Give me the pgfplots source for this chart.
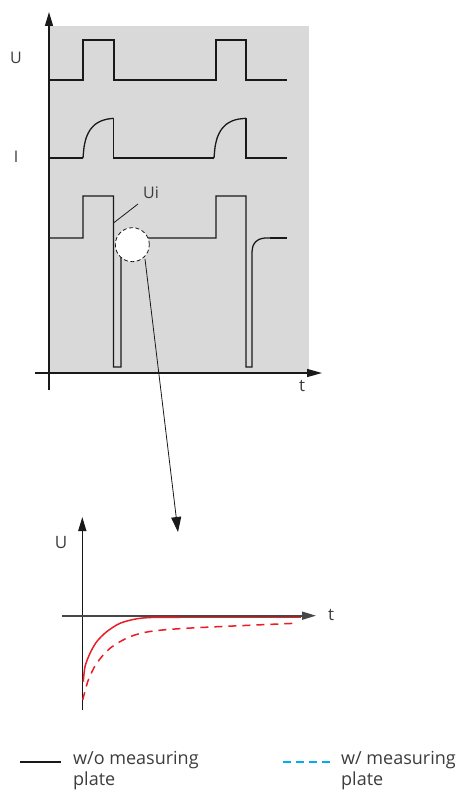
\documentclass[border=0pt]{standalone}
\usepackage{fontspec}
\setmainfont{Open Sans}
\usepackage{pgfplots}
\pgfplotsset{compat=1.18}
\usetikzlibrary{arrows.meta}
\definecolor{bg}{RGB}{217,217,217}
\definecolor{ink}{RGB}{25,25,25}
\definecolor{txt}{RGB}{60,60,60}
\definecolor{sigred}{RGB}{237,28,36}
\definecolor{legblue}{RGB}{0,174,239}
\pgfplotsset{sig/.style={ink, line width=1.3pt, mark=none}}
\begin{document}
\begin{tikzpicture}
\begin{axis}[
  x=1pt, y=1pt, y dir=reverse,
  xmin=0, xmax=461, ymin=0, ymax=792,
  hide axis, clip=false, scale only axis,
  no markers,
]
% grey field
\addplot[draw=none, fill=bg] coordinates {(49,26) (309,26) (309,373) (49,373)} -- cycle;

% U
\addplot[sig] coordinates {(49,80) (83,80) (83,40) (114,40) (114,80) (216,80) (216,40) (246,40) (246,80) (287,80)};
% I
\addplot[sig] coordinates {(49,158) (83,158)};
\addplot[sig, smooth] coordinates {(83,158) (84.2,146) (86.5,137) (90,130) (95,124.5) (101,121) (107,119.2) (113.5,118.3)};
\addplot[sig] coordinates {(113.5,118.3) (113.5,158) (214,158)};
\addplot[sig, smooth] coordinates {(214,158) (215.2,146) (217.5,137) (221,130) (226,124.5) (232,121) (238,119.2) (246,118.3)};
\addplot[sig] coordinates {(246,118.3) (246,158) (287,158)};
% Ui
\addplot[sig] coordinates {(49,238) (83,238) (83,196) (113.5,196) (113.5,367) (121,367) (121,255) (124,246) (130,240) (140,238)
  (216,238) (216,196) (246,196) (246,367) (252,367) (252,252)};
\addplot[sig, smooth] coordinates {(252,252) (253,246) (255.5,242) (259.5,239.2) (265,238) (270,238)};
\addplot[sig] coordinates {(270,238) (287,238)};
% leader to Ui
\addplot[ink, line width=0.8pt] coordinates {(113.5,223) (138,204)};
% highlight circle
\addplot[only marks, mark=*, mark size=17pt, mark options={fill=white, draw=ink, line width=0.8pt, dash pattern=on 4pt off 2.5pt}] coordinates {(132.3,244.7)};

% top axes
\addplot[sig, -{Triangle[length=14pt,width=8pt]}] coordinates {(49,390) (49,12)};
\addplot[sig, -{Triangle[length=15pt,width=8pt]}] coordinates {(35,373) (322,373)};

% zoom arrow
\addplot[ink, line width=0.8pt, -{Triangle[length=15pt,width=10pt]}] coordinates {(145,259) (178,532)};

% bottom axes
\addplot[ink, line width=1.4pt, -{Triangle[length=14pt,width=8pt]}] coordinates {(82.3,710) (82.3,517)};
\addplot[ink!80, line width=1.6pt, -{Triangle[length=14pt,width=8pt]}] coordinates {(62,615.7) (316,615.7)};

% response curves
\addplot[sigred, line width=1.5pt, smooth] coordinates {(83.3,681.7) (85,666.7) (90,653.3) (96.7,641.7) (106.7,631.7) (120,623.3) (136.7,618.8) (153.3,617.4) (180,617.4)};
\addplot[sigred, line width=1.5pt] coordinates {(180,617.4) (300.7,617.4)};
\addplot[sigred, line width=1.5pt, smooth, dash pattern=on 8pt off 6pt] coordinates {(82.7,700) (88.3,680) (96.7,663.3) (110,648.3) (130,636.7) (153.3,631) (196.7,627.7) (295,623.3)};

% legend samples
\addplot[ink, line width=1.5pt] coordinates {(20,762) (61,762)};
\addplot[legblue, line width=1.5pt, dash pattern=on 8pt off 5pt] coordinates {(283,762) (332,762)};

% texts
\node[text=txt, font=\fontsize{16}{18}\selectfont] at (axis cs:16,58) {U};
\node[text=txt, font=\fontsize{16}{18}\selectfont] at (axis cs:16,157) {I};
\node[text=txt, font=\fontsize{16}{18}\selectfont] at (axis cs:151,193) {Ui};
\node[text=txt, font=\fontsize{17}{18}\selectfont] at (axis cs:302,386) {t};
\node[text=txt, font=\fontsize{17}{18}\selectfont] at (axis cs:61,543) {U};
\node[text=txt, font=\fontsize{17}{18}\selectfont] at (axis cs:331,615) {t};
\node[text=txt, font=\fontsize{18}{21}\selectfont, anchor=north west, align=left, inner sep=0pt] at (axis cs:73,751) {w/o measuring\\plate};
\node[text=txt, font=\fontsize{18}{21}\selectfont, anchor=north west, align=left, inner sep=0pt] at (axis cs:341,751) {w/ measuring\\plate};
\end{axis}
\pgfresetboundingbox
\useasboundingbox (0,0) rectangle (461pt,792pt);
\end{tikzpicture}
\end{document}
